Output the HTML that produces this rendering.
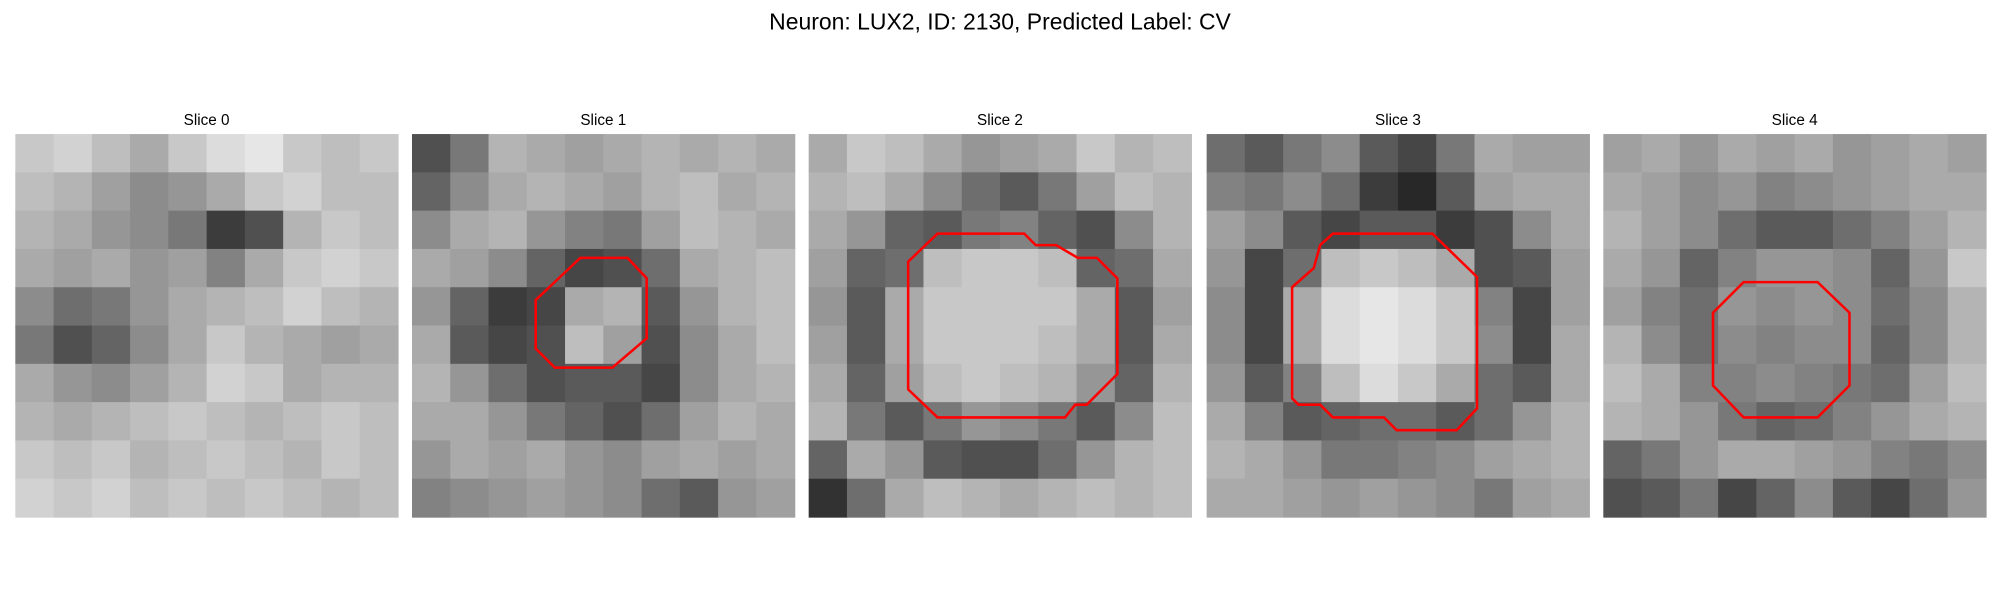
<!DOCTYPE html>
<html><head><meta charset="utf-8"><style>
html,body{margin:0;padding:0;background:#fff;width:2000px;height:600px;overflow:hidden}
svg{display:block}
text{font-family:"Liberation Sans","DejaVu Sans",sans-serif;fill:#000}
</style></head><body>
<svg id="fig" width="2000" height="600" viewBox="0 0 1568 470" preserveAspectRatio="none" xmlns="http://www.w3.org/2000/svg">
<text x="784" y="23" text-anchor="middle" font-size="18">Neuron: LUX2, ID: 2130, Predicted Label: CV</text>
<g id="panels"></g>
</svg>
<script>
const sliceTitles=["Slice 0","Slice 1","Slice 2","Slice 3","Slice 4"];
const panelX=[12,323,634,946,1257];
const grid0=[[200,210,190,170,200,220,230,200,190,200],[190,180,160,140,150,170,200,210,190,190],[180,170,150,140,120,60,80,180,200,190],[170,160,170,150,160,130,170,200,210,200],[140,110,120,150,170,180,190,210,190,180],[120,80,100,140,170,200,180,170,160,170],[170,150,140,160,180,210,200,170,180,180],[180,170,180,190,200,190,180,190,200,190],[200,190,200,180,190,200,190,180,200,190],[210,200,210,190,200,190,200,190,180,190]];
const grid1=[[80,120,180,170,160,170,180,170,180,170],[100,140,170,180,170,160,180,190,170,180],[140,170,180,150,130,120,160,190,180,170],[170,160,140,100,70,80,110,170,180,190],[150,100,60,70,170,180,90,150,180,190],[170,90,70,80,190,160,80,140,170,190],[180,150,110,80,90,90,70,140,170,180],[170,170,150,120,100,80,110,160,180,170],[150,170,160,170,150,140,160,170,160,170],[130,140,150,160,150,140,110,90,150,160]];
const grid2=[[170,200,190,170,150,160,170,200,180,190],[180,190,170,140,110,90,120,160,190,180],[170,150,100,90,120,130,100,80,140,180],[160,100,110,190,200,200,190,100,110,170],[150,90,170,200,200,200,200,170,90,160],[160,90,170,200,200,200,190,170,90,170],[170,100,160,190,200,190,180,150,100,180],[180,120,90,120,150,140,120,90,140,190],[100,170,150,90,80,80,110,150,180,190],[50,110,170,190,180,170,180,190,180,190]];
const grid3=[[110,90,120,140,90,70,120,170,160,160],[130,120,140,110,60,40,90,160,170,170],[160,140,90,70,90,90,60,80,140,170],[150,70,110,190,200,190,170,80,90,160],[140,70,170,220,230,220,200,130,70,160],[140,70,170,220,230,220,200,140,70,170],[150,90,130,190,220,200,170,110,90,170],[170,130,90,100,110,110,90,110,150,180],[180,170,150,120,120,130,140,160,170,180],[170,170,160,150,160,150,140,120,160,170]];
const grid4=[[160,170,150,170,160,170,150,160,170,160],[170,160,140,150,130,140,150,160,170,170],[180,160,140,110,90,90,110,130,160,180],[170,150,100,130,150,150,140,100,150,200],[160,130,110,150,140,150,140,110,140,180],[180,140,110,140,130,140,140,100,140,180],[190,170,130,130,140,130,120,110,160,190],[180,170,150,120,100,110,130,150,170,180],[100,120,150,170,170,160,150,130,120,140],[80,90,120,70,100,140,90,70,110,150]];
const grids=[grid0,grid1,grid2,grid3,grid4];
const contour1=[[132,97],[169,97],[184,113],[184,160],[157,183],[112,183],[97,168],[97,130]];
const contour2=[[101,78],[169,78],[178,87],[194,87],[211,97],[226,97],[242,113],[242,188],[218,212],[209,212],[201,222],[101,222],[78,200],[78,100]];
const contour3=[[99,78],[177,78],[212,112],[212,215],[196,232],[149,232],[139,222],[99,222],[89,212],[72,212],[67,207],[67,120],[84,105],[89,87]];
const contour4=[[110,116],[168,116],[193,140],[193,197],[168,222],[110,222],[86,197],[86,140]];
const contours=[null,contour1,contour2,contour3,contour4];
const NS="http://www.w3.org/2000/svg";
const G=document.getElementById('panels');
const PY=105,PS=300;
sliceTitles.forEach((t,i)=>{
  const g=document.createElementNS(NS,'g');
  
  
  const x0=panelX[i];
  const tt=document.createElementNS(NS,'text');
  
  
  tt.setAttribute('x',x0+PS/2);tt.setAttribute('y',98);
  tt.setAttribute('text-anchor','middle');tt.setAttribute('font-size','12');
  tt.textContent=t;g.appendChild(tt);
  const grid=grids[i];const n=grid.length;const c=PS/n;
  grid.forEach((row,r)=>row.forEach((v,k)=>{
    const rc=document.createElementNS(NS,'rect');
    
    
    rc.setAttribute('x',x0+k*c);rc.setAttribute('y',PY+r*c);
    rc.setAttribute('width',c+0.5);rc.setAttribute('height',c+0.5);
    rc.setAttribute('fill','rgb('+v+','+v+','+v+')');
    g.appendChild(rc);
  }));
  if(contours[i]){
    const p=document.createElementNS(NS,'polygon');
    
    
    p.setAttribute('points',contours[i].map(q=>(x0+q[0])+','+(PY+q[1])).join(' '));
    p.setAttribute('fill','none');p.setAttribute('stroke','#ff0000');p.setAttribute('stroke-width','2');
    g.appendChild(p);
  }
  G.appendChild(g);
});
</script>
</body></html>
